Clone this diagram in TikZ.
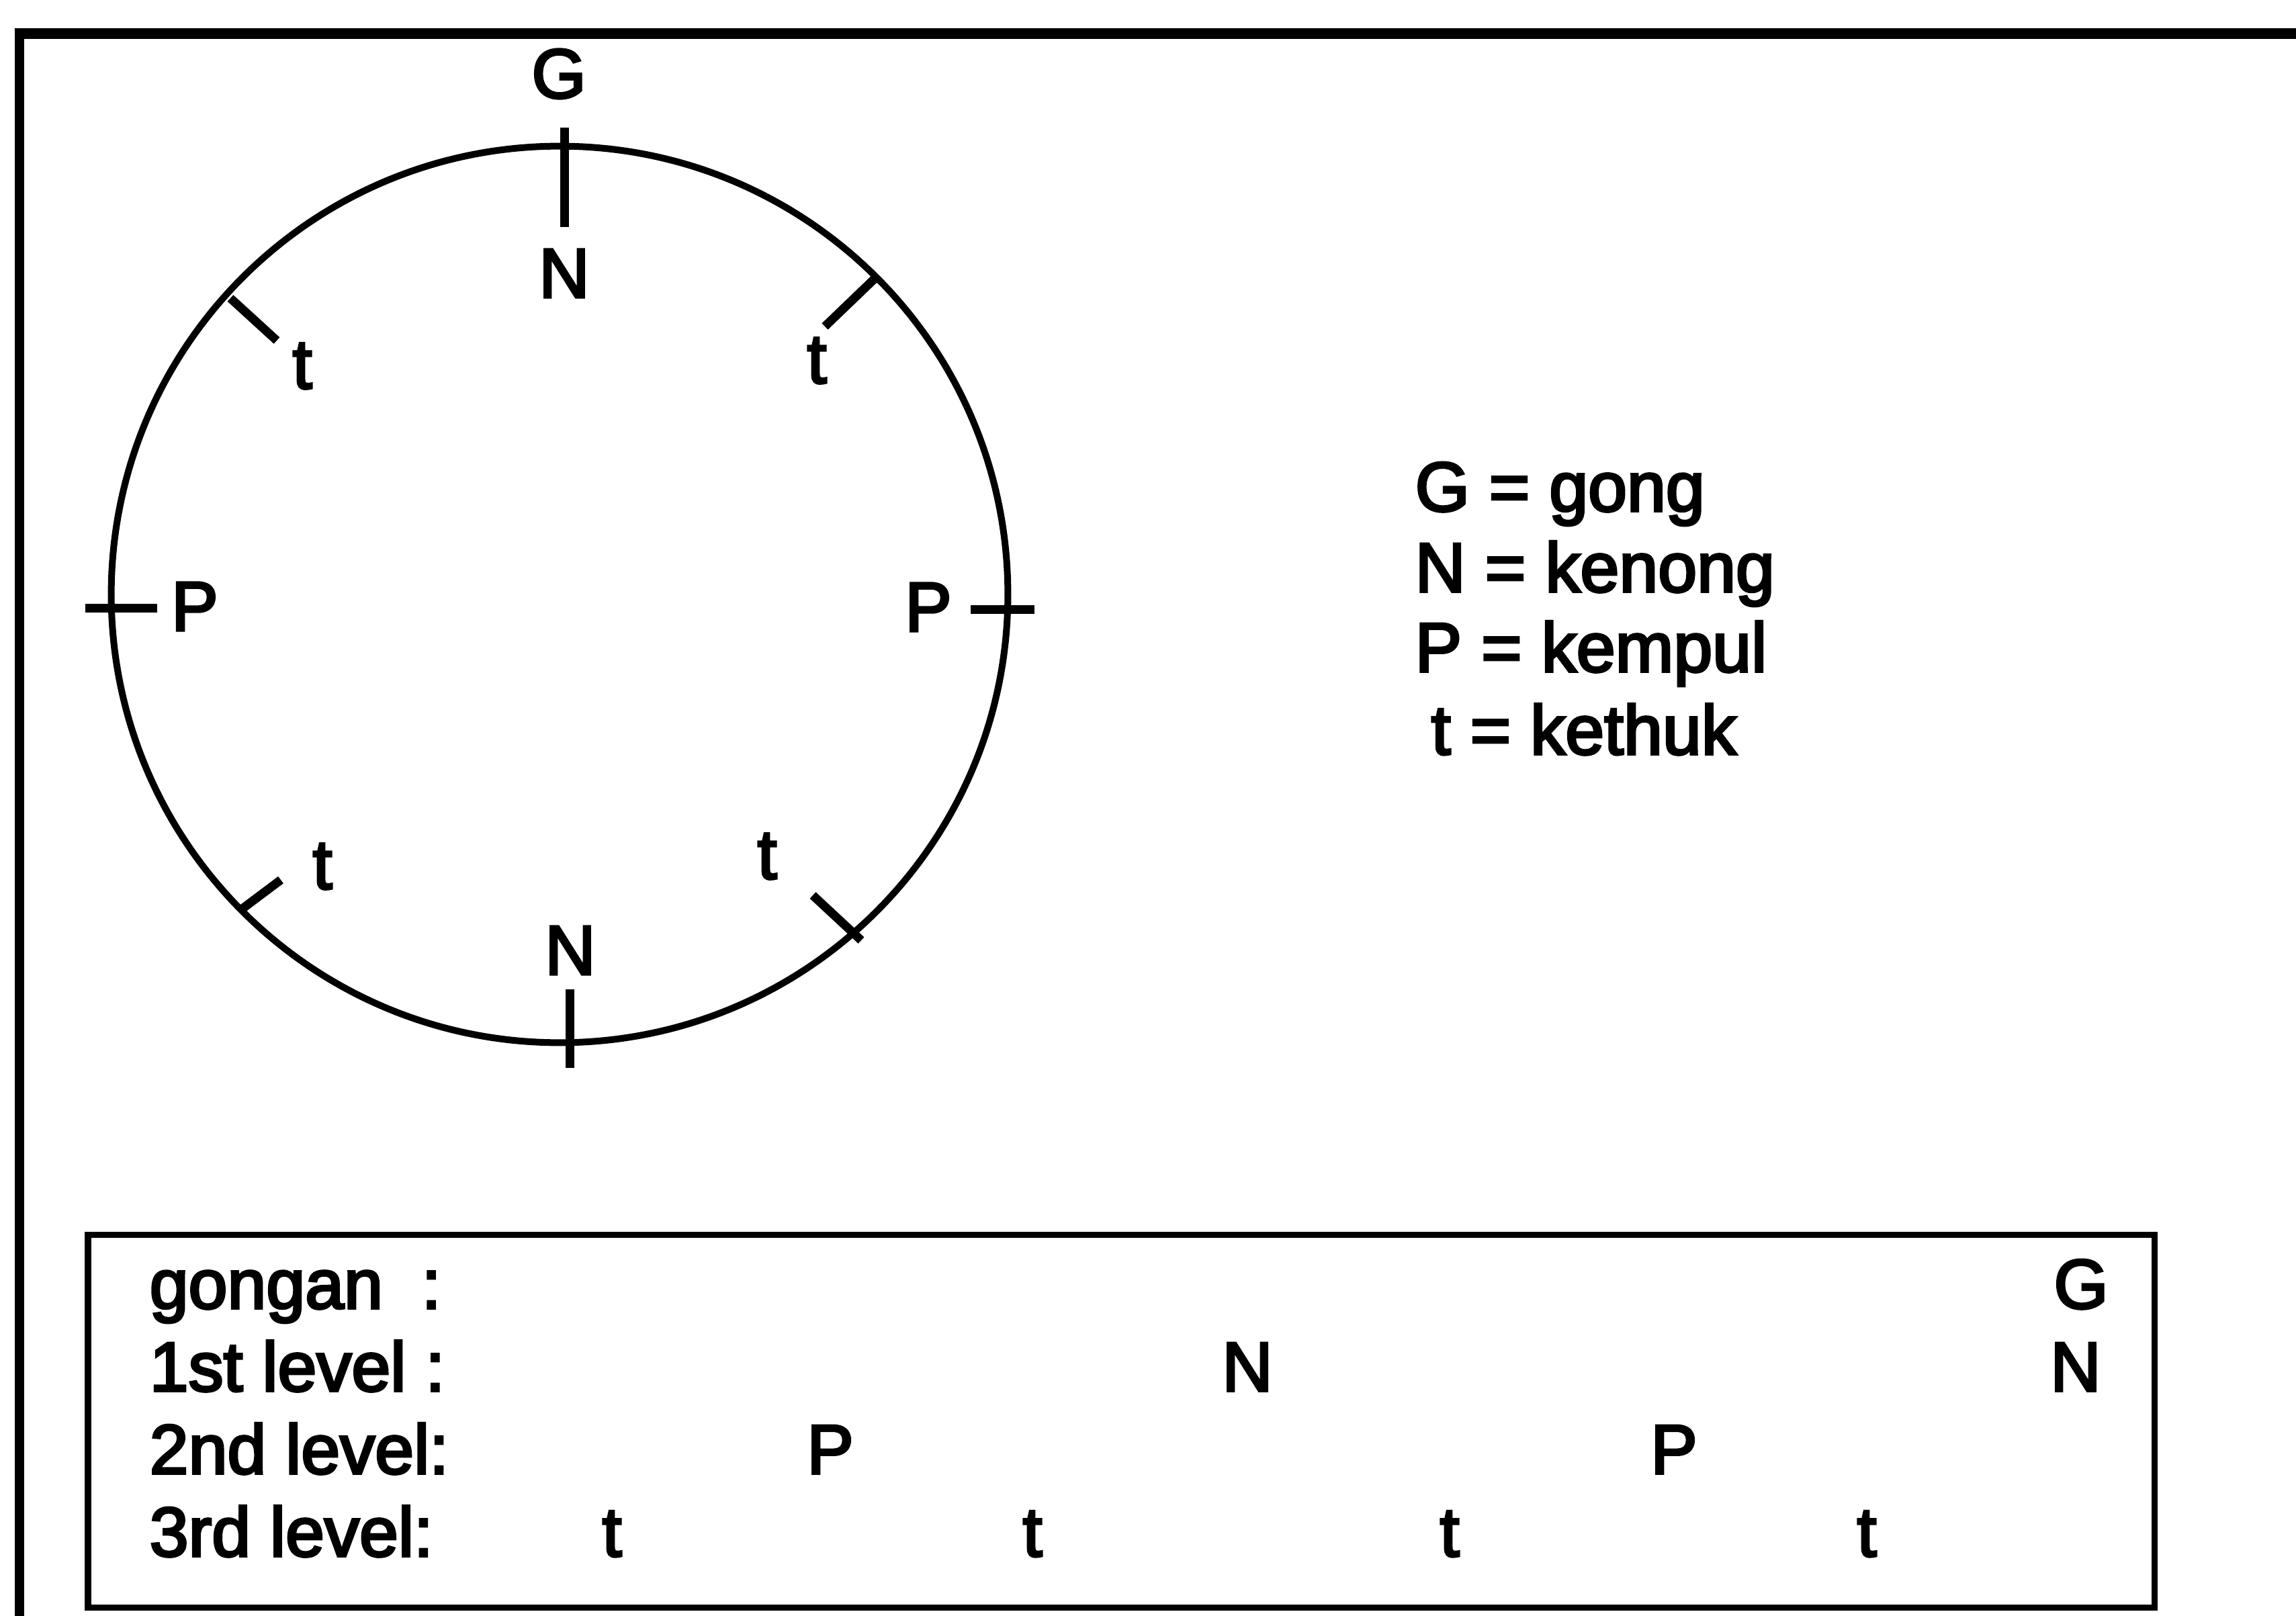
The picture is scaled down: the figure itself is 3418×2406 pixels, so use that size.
\documentclass[tikz,border=0pt]{standalone}
\usepackage{fontspec}
\setmainfont{Liberation Sans}[BoldFont={Liberation Sans}, BoldFeatures={FakeBold=3.5}]
\begin{document}
\begin{tikzpicture}[x=0.01cm,y=-0.01cm,
  txt/.style={font=\fontsize{29.6}{36}\selectfont\bfseries, inner sep=0pt},
  tickline/.style={line width=0.13cm},
  ring/.style={line width=0.10cm},
  boxline/.style={line width=0.09cm}]
\useasboundingbox (0,0) rectangle (3418,2406);
\fill[white] (0,0) rectangle (3418,2406);
% outer frame (cut off at right and bottom)
\draw[line width=0.13cm] (29,2406) -- (29,50);
\draw[line width=0.16cm] (22,50) -- (3418,50);
% cycle circle
\coordinate (c) at (833,885);
\draw[ring] (c) circle[radius=6.67cm];
% ticks
\draw[tickline] (840,190) -- (840,338);
\draw[tickline] (848,1473) -- (848,1590);
\draw[tickline] (127,905) -- (234,905);
\draw[tickline] (1445,907) -- (1540,907);
\draw[tickline] (1304,413) -- (1228,486);
\draw[tickline] (343,444) -- (412,507);
\draw[tickline] (358,1355) -- (418,1310);
\draw[tickline] (1282,1400) -- (1210,1333);
% circle labels
\node[txt] (cG) at (832,110) {G};
\node[txt] (cN1) at (840,407) {N};
\node[txt] (ct1) at (1216,537) {t};
\node[txt] (ct4) at (450,545) {t};
\node[txt] (cP1) at (290,903) {P};
\node[txt] (cP2) at (1382,904) {P};
\node[txt] (ct3) at (480,1290) {t};
\node[txt] (ct2) at (1142,1275) {t};
\node[txt] (cN2) at (849,1415) {N};
% legend
\node[txt, anchor=base west] (lg1) at (2106,761) {G = gong};
\node[txt, anchor=base west] (lg2) at (2106,881) {N = kenong};
\node[txt, anchor=base west] (lg3) at (2106,1000) {P = kempul};
\node[txt, anchor=base west] (lg4) at (2130,1123) {t = kethuk};
% level box
\draw[boxline] (131,1838) rectangle (3207,2393);
\node[txt, anchor=base west] (r0) at (222,1948) {gongan\ \ :};
\node[txt, anchor=base west] (r1) at (222,2071) {1st level :};
\node[txt, anchor=base west] (r2) at (222,2194) {2nd level:};
\node[txt, anchor=base west] (r3) at (222,2317) {3rd level:};
\node[txt, anchor=base] (bG) at (3098,1948) {G};
\node[txt, anchor=base] (bN2) at (3090,2071) {N};
\node[txt, anchor=base] (bN1) at (1857,2071) {N};
\node[txt, anchor=base] (bP1) at (1236,2194) {P};
\node[txt, anchor=base] (bP2) at (2492,2194) {P};
\node[txt, anchor=base] (bt1) at (911,2317) {t};
\node[txt, anchor=base] (bt2) at (1537,2317) {t};
\node[txt, anchor=base] (bt3) at (2158,2317) {t};
\node[txt, anchor=base] (bt4) at (2779,2317) {t};
\end{tikzpicture}
\end{document}
